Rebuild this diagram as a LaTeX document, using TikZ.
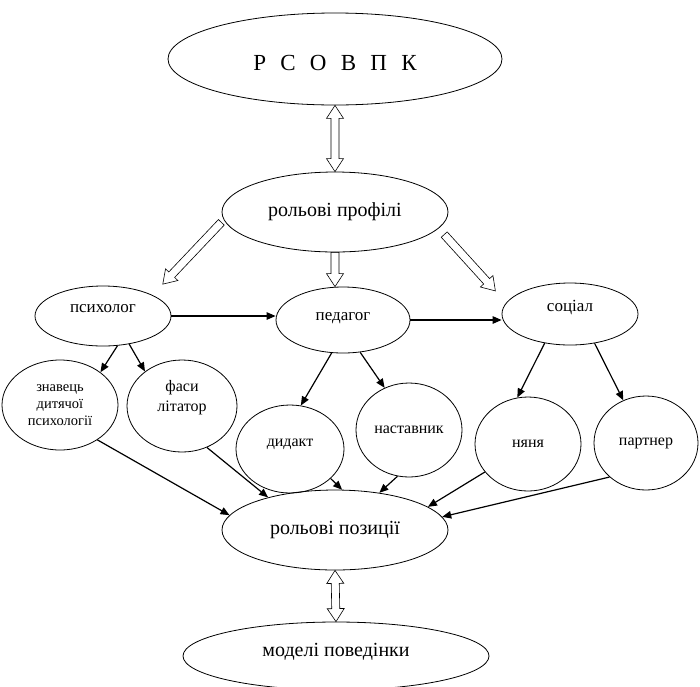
\documentclass[tikz,border=0pt]{standalone}
\usepackage{fontspec}
\setmainfont{Liberation Serif}
\usetikzlibrary{shapes.geometric,arrows.meta,calc}
\tikzset{
 ell/.style={draw, ellipse, inner sep=0pt, line width=0.8pt, align=center},
 fbig/.style={font=\fontsize{20}{24}\selectfont},
 fmid/.style={font=\fontsize{17}{20}\selectfont},
 fsml/.style={font=\fontsize{16}{20}\selectfont},
 ftiny/.style={font=\fontsize{14.5}{17}\selectfont},
 arr/.style={-{Triangle[length=9pt,width=7.5pt]}, line width=1.2pt},
 hs/.store in=\hsA, he/.store in=\hsB, hs=0pt, he=0pt,
 hollow/.style={line width=0.6pt, to path={
   let \p1=($(\tikztostart)!\hsA!(\tikztotarget)$), \p2=($(\tikztotarget)!\hsB!(\tikztostart)$),
       \n1={atan2(\y2-\y1,\x2-\x1)} in
   ($(\p1)+(\n1+90:4pt)$) -- ($(\p2)!13pt!(\p1)+(\n1+90:4pt)$) -- ($(\p2)!13pt!(\p1)+(\n1+90:8.5pt)$) -- (\p2)
   -- ($(\p2)!13pt!(\p1)+(\n1-90:8.5pt)$) -- ($(\p2)!13pt!(\p1)+(\n1-90:4pt)$) -- ($(\p1)+(\n1-90:4pt)$) -- cycle}},
 hollowboth/.style={line width=0.6pt, to path={
   let \p1=(\tikztostart), \p2=(\tikztotarget),
       \n1={atan2(\y2-\y1,\x2-\x1)} in
   ($(\p1)!13pt!(\p2)+(\n1+90:4pt)$) -- ($(\p2)!13pt!(\p1)+(\n1+90:4pt)$) -- ($(\p2)!13pt!(\p1)+(\n1+90:8.5pt)$) -- (\p2)
   -- ($(\p2)!13pt!(\p1)+(\n1-90:8.5pt)$) -- ($(\p2)!13pt!(\p1)+(\n1-90:4pt)$) -- ($(\p1)!13pt!(\p2)+(\n1-90:4pt)$)
   -- ($(\p1)!13pt!(\p2)+(\n1-90:8.5pt)$) -- (\p1) -- ($(\p1)!13pt!(\p2)+(\n1+90:8.5pt)$) -- cycle}},
}
\begin{document}
\begin{tikzpicture}[x=1pt,y=-1pt]
\useasboundingbox (0,0) rectangle (700,686);
\clip (0,0) rectangle (700,686);
\node[ell, minimum width=334pt, minimum height=92pt, font=\fontsize{23}{26}\selectfont, text height=23pt] (rsovpk) at (335,59)
  {Р\hspace{0.62em}С\hspace{0.62em}О\hspace{0.62em}В\hspace{0.62em}П\hspace{0.62em}К};
\node[ell, fbig, minimum width=226pt, minimum height=80pt] (prof) at (335,212) {рольові профілі};
\node[ell, fmid, minimum width=136pt, minimum height=60pt, text depth=16pt] (psy) at (103,316) {психолог};
\node[ell, fmid, minimum width=134pt, minimum height=66pt, text depth=8pt] (ped) at (343,320) {педагог};
\node[ell, fmid, minimum width=136pt, minimum height=62pt, text depth=16pt] (soc) at (570,314) {соціал};
\node[ell, ftiny, minimum width=116pt, minimum height=90pt] (znav) at (60,405) {знавець\\дитячої\\психології};
\node[ell, fsml, minimum width=110pt, minimum height=92pt, text depth=20pt] (fasy) at (182,406) {фаси\\літатор};
\node[ell, fsml, minimum width=108pt, minimum height=88pt, text depth=12pt] (dyd) at (290,449) {дидакт};
\node[ell, fsml, minimum width=106pt, minimum height=94pt] (nast) at (409,430) {наставник};
\node[ell, fsml, minimum width=106pt, minimum height=94pt] (nyan) at (528,444) {няня};
\node[ell, fsml, minimum width=104pt, minimum height=94pt] (part) at (646,443) {партнер};
\node[ell, fbig, minimum width=226pt, minimum height=80pt] (pos) at (335,530) {рольові позиції};
\node[ell, fbig, minimum width=306pt, minimum height=68pt, text depth=12pt] (mod) at (336,656) {моделі поведінки};
% hollow arrows
\draw[hollowboth] (rsovpk.south) to (prof.north);
\draw[hollow, hs=3.5pt, he=15pt] (prof.184.5) to (psy.23);
\draw[hollow] (prof.south) to (prof.south |- ped.north);
\draw[hollow, hs=8.3pt, he=16pt] (prof.-9.4) to (soc.170.9);
\draw[hollowboth] (pos.south) to (mod.north);
% black arrows
\draw[arr] (psy.east) -- (psy.east -| ped.west);
\draw[arr] (ped.east) -- (ped.east -| soc.west);
\draw[arr] (psy.-64) -- (znav.39);
\draw[arr] (psy.-47) -- (fasy.137);
\draw[arr] (ped.-109) -- (dyd.76);
\draw[arr] (ped.-62) -- (nast.120);
\draw[arr] (soc.-131) -- (nyan.103);
\draw[arr] (soc.-50) -- (part.118);
\draw[arr] (znav.-43) -- (pos.172);
\draw[arr] (fasy.-59) -- (pos.154.5);
\draw[arr] (dyd.-36) -- (pos.80);
\draw[arr] (nast.-104) -- (pos.40.5);
\draw[arr] (nyan.-147) -- (pos.14.8);
\draw[arr] (part.-137) -- (pos.7.3);
\end{tikzpicture}
\end{document}
